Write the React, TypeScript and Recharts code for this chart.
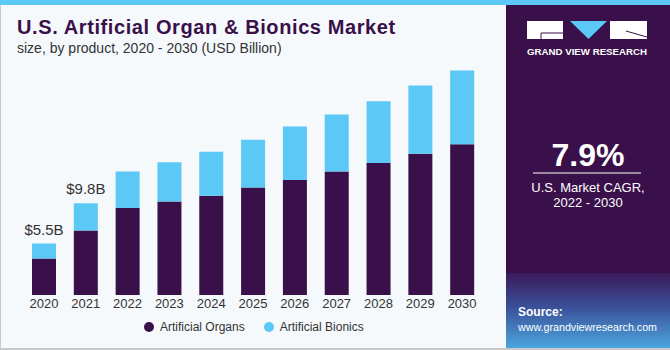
import React from 'react';
import { BarChart, Bar, XAxis, YAxis, LabelList } from 'recharts';

const years = ['2020', '2021', '2022', '2023', '2024', '2025', '2026', '2027', '2028', '2029', '2030'];
const organs = [3.9, 6.9, 9.3, 10.0, 10.6, 11.5, 12.3, 13.2, 14.1, 15.1, 16.1];
const bionics = [1.6, 2.9, 3.9, 4.2, 4.7, 5.1, 5.7, 6.1, 6.6, 7.3, 7.9];
const valueLabels = ['$5.5B', '$9.8B', '', '', '', '', '', '', '', '', ''];
const seriesNames = ['Artificial Organs', 'Artificial Bionics'];

const data = years.map((year, i) => ({
  year,
  organs: organs[i],
  bionics: bionics[i],
  label: valueLabels[i],
}));

const PURPLE = '#3a104a';
const BLUE = '#5bc8f5';
const FONT = '"Liberation Sans", Arial, sans-serif';

const TopLabel = (props: any) => {
  const { x, y, width, value } = props;
  if (!value) return null;
  return (
    <text x={x + width / 2} y={y - 9} textAnchor="middle" fill="#333" fontSize={15} fontFamily={FONT}>
      {value}
    </text>
  );
};

export default function App() {
  return (
    <div style={{ position: 'absolute', left: 0, top: 0, width: 670, height: 350, background: '#f5f9fc', fontFamily: FONT, overflow: 'hidden' }}>
      {/* frame */}
      <div style={{ position: 'absolute', left: 0, top: 0, width: 1, height: 350, background: '#c9c9c9' }} />
      <div style={{ position: 'absolute', left: 0, top: 348, width: 670, height: 2, background: '#c9c9c9' }} />
      <div style={{ position: 'absolute', left: 0, top: 0, width: 670, height: 5, background: BLUE }} />

      <div style={{ position: 'absolute', left: 17, top: 16, fontSize: 20, fontWeight: 'bold', letterSpacing: 0.6, color: PURPLE, whiteSpace: 'nowrap' }}>
        U.S. Artificial Organ &amp; Bionics Market
      </div>
      <div style={{ position: 'absolute', left: 17, top: 40, fontSize: 14, color: '#333', whiteSpace: 'nowrap' }}>
        size, by product, 2020 - 2030 (USD Billion)
      </div>

      <div style={{ position: 'absolute', left: 0, top: 0 }}>
        <BarChart width={506} height={350} data={data} margin={{ top: 33, right: 23, bottom: 25, left: 23 }} barSize={24}>
          <XAxis
            dataKey="year"
            axisLine={false}
            tickLine={false}
            tickSize={0}
            tickMargin={4}
            height={30}
            interval={0}
            tick={{ fill: '#333', fontSize: 13, fontFamily: FONT }}
          />
          <YAxis hide domain={[0, 28]} />
          <Bar dataKey="organs" stackId="a" fill={PURPLE} isAnimationActive={false} />
          <Bar dataKey="bionics" stackId="a" fill={BLUE} isAnimationActive={false}>
            <LabelList dataKey="label" content={TopLabel} />
          </Bar>
        </BarChart>
      </div>

      {/* legend */}
      <div style={{ position: 'absolute', left: 144, top: 320, display: 'flex', alignItems: 'center', fontSize: 12, color: '#333', whiteSpace: 'nowrap' }}>
        <span style={{ width: 10, height: 10, borderRadius: 5, background: PURPLE, display: 'inline-block', marginRight: 6 }} />
        <span style={{ marginRight: 19 }}>{seriesNames[0]}</span>
        <span style={{ width: 10, height: 10, borderRadius: 5, background: BLUE, display: 'inline-block', marginRight: 6 }} />
        <span>{seriesNames[1]}</span>
      </div>

      {/* right panel */}
      <div style={{ position: 'absolute', left: 506, top: 5, width: 164, height: 343, background: PURPLE }}>
        <div style={{ position: 'absolute', left: 0, top: 268, width: 164, height: 75, background: 'linear-gradient(#3a1a5a 0%, #3b4f98 45%, #4aa6df 100%)' }} />
        <svg width={164} height={343} style={{ position: 'absolute', left: 0, top: 0 }}>
          <rect x={21} y={16} width={36} height={18} fill="#fff" />
          <polygon points="64,16 101,16 82.5,34" fill={BLUE} />
          <rect x={104} y={16} width={37} height={18} fill="#fff" />
          <line x1={35} y1={28} x2={57} y2={28} stroke={PURPLE} strokeWidth={1} />
          <line x1={35} y1={28} x2={35} y2={34} stroke={PURPLE} strokeWidth={1} />
          <line x1={120} y1={26} x2={141} y2={32} stroke={PURPLE} strokeWidth={1} />
          <text x={21} y={50} fill="#fff" fontSize={9.5} fontWeight="bold" textLength={120} lengthAdjust="spacingAndGlyphs" fontFamily={FONT}>
            GRAND VIEW RESEARCH
          </text>
          <text x={82} y={161} textAnchor="middle" fill="#fff" fontSize={32} fontWeight="bold" fontFamily={FONT}>
            7.9%
          </text>
          <line x1={27} y1={168} x2={135} y2={168} stroke="#fff" strokeWidth={1} />
          <text x={82} y={187} textAnchor="middle" fill="#fff" fontSize={13} fontFamily={FONT}>
            U.S. Market CAGR,
          </text>
          <text x={82} y={202} textAnchor="middle" fill="#fff" fontSize={13} fontFamily={FONT}>
            2022 - 2030
          </text>
          <text x={12} y={311} fill="#fff" fontSize={12} fontWeight="bold" fontFamily={FONT}>
            Source:
          </text>
          <text x={12} y={326} fill="#fff" fontSize={11.5} textLength={139} lengthAdjust="spacingAndGlyphs" fontFamily={FONT}>
            www.grandviewresearch.com
          </text>
        </svg>
      </div>
    </div>
  );
}
